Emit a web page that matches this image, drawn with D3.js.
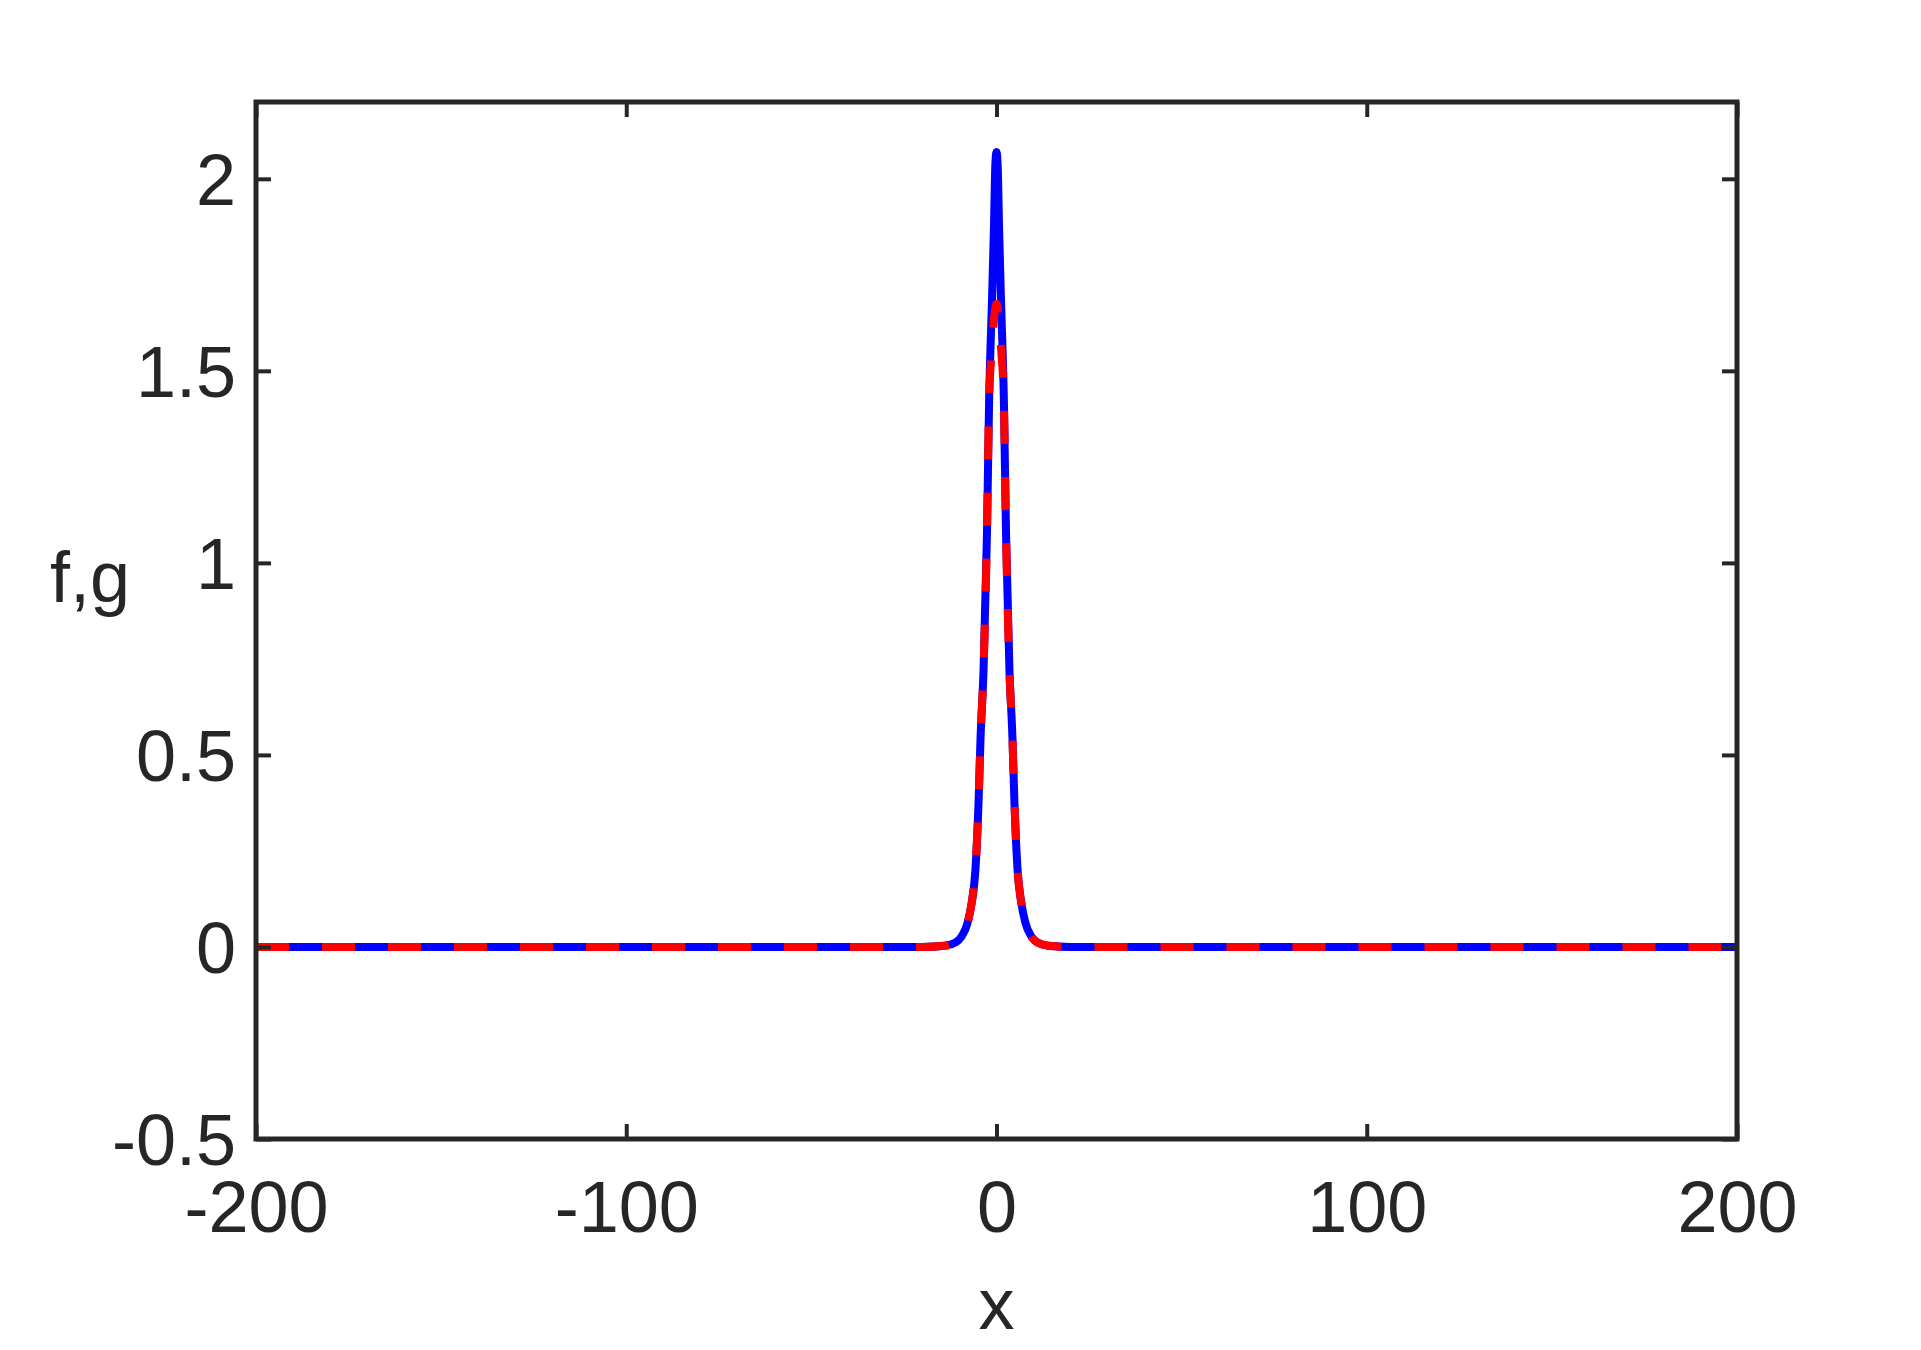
<!DOCTYPE html>
<html>
<head>
<meta charset="utf-8">
<script src="https://cdn.jsdelivr.net/npm/d3@7"></script>
<style>
  body { margin: 0; background: #fff; }
  text { font-family: "Liberation Sans", Arial, Helvetica, sans-serif; fill: #262626; }
</style>
</head>
<body>
<div id="chart"></div>
<script>
// values (x, f) for the solid blue curve
var fX = [-200, -20, -14, -11, -9.5, -7.8, -6.7, -5.7, -4.85, -4.3, -3.5, -2.57, -2.0, -1.2, -0.7, -0.3, 0,
          0.3, 0.7, 1.2, 2.0, 2.57, 3.5, 4.3, 4.85, 5.7, 6.7, 7.8, 9.5, 11, 14, 20, 200];
var fY = [0, 0, 0.003, 0.012, 0.026, 0.063, 0.115, 0.2, 0.375, 0.547, 0.72, 1.078, 1.42, 1.69, 1.87, 2.04, 2.07,
          2.04, 1.87, 1.69, 1.42, 1.078, 0.72, 0.547, 0.375, 0.2, 0.115, 0.063, 0.026, 0.012, 0.003, 0, 0];

// dashed red curve (g), peak is lower
var gX = [-200, -20, -14, -11, -9.5, -7.8, -6.7, -5.7, -4.85, -4.3, -3.5, -2.57, -2.0, -1.3, -0.5, 0,
          0.5, 1.3, 2.0, 2.57, 3.5, 4.3, 4.85, 5.7, 6.7, 7.8, 9.5, 11, 14, 20, 200];
var gY = [0, 0, 0.003, 0.012, 0.026, 0.063, 0.115, 0.2, 0.375, 0.547, 0.72, 1.078, 1.42, 1.55, 1.65, 1.675,
          1.65, 1.55, 1.42, 1.078, 0.72, 0.547, 0.375, 0.2, 0.115, 0.063, 0.026, 0.012, 0.003, 0, 0];

var xTicks = [-200, -100, 0, 100, 200];
var yTicks = [-0.5, 0, 0.5, 1, 1.5, 2];

var svgWidth = 1921;
var svgHeight = 1350;
var margin = { top: 102, right: 184, bottom: 211, left: 256 };
var width = svgWidth - margin.left - margin.right;
var height = svgHeight - margin.top - margin.bottom;

var svg = d3.select("#chart")
  .append("svg")
  .attr("width", svgWidth)
  .attr("height", svgHeight);

var chartGroup = svg.append("g")
  .attr("transform", `translate(${margin.left}, ${margin.top})`);

var x = d3.scaleLinear().domain([-200, 200]).range([0, width]);
var y = d3.scaleLinear().domain([-0.5, 2.2]).range([height, 0]);

var fmt = d => String(d);

// curves
var line = d3.line()
  .x(d => x(d[0]))
  .y(d => y(d[1]))
  .curve(d3.curveMonotoneX);

chartGroup.append("path")
  .datum(fX.map((v, i) => [v, fY[i]]))
  .attr("d", line)
  .attr("fill", "none")
  .attr("stroke", "#0000ff")
  .attr("stroke-width", 8)
  .attr("stroke-linejoin", "round");

chartGroup.append("path")
  .datum(gX.map((v, i) => [v, gY[i]]))
  .attr("d", line)
  .attr("fill", "none")
  .attr("stroke", "#ff0000")
  .attr("stroke-width", 8)
  .attr("stroke-linejoin", "round")
  .attr("stroke-dasharray", "33,33");

// axes (ticks point inward, box on all sides)
function styleAxis(g) {
  g.select(".domain").remove();
  g.selectAll(".tick line").attr("stroke", "#262626").attr("stroke-width", 4);
  g.selectAll(".tick text").attr("font-size", 72).attr("fill", "#262626");
}

chartGroup.append("g")
  .attr("transform", `translate(0, ${height})`)
  .call(d3.axisBottom(x).tickValues(xTicks).tickSize(-15).tickPadding(42).tickFormat(fmt))
  .call(styleAxis);

chartGroup.append("g")
  .call(d3.axisTop(x).tickValues(xTicks).tickSize(-15).tickFormat(""))
  .call(styleAxis);

var yAxis = chartGroup.append("g")
  .call(d3.axisLeft(y).tickValues(yTicks).tickSize(-15).tickPadding(20).tickFormat(fmt))
  .call(styleAxis);
yAxis.selectAll(".tick text").attr("dy", "0.36em");

chartGroup.append("g")
  .attr("transform", `translate(${width}, 0)`)
  .call(d3.axisRight(y).tickValues(yTicks).tickSize(-15).tickFormat(""))
  .call(styleAxis);

chartGroup.append("rect")
  .attr("width", width)
  .attr("height", height)
  .attr("fill", "none")
  .attr("stroke", "#262626")
  .attr("stroke-width", 5);

// labels
chartGroup.append("text")
  .attr("x", width / 2)
  .attr("y", height + 190)
  .attr("text-anchor", "middle")
  .attr("font-size", 72)
  .text("x");

svg.append("text")
  .attr("x", 90)
  .attr("y", 602)
  .attr("text-anchor", "middle")
  .attr("font-size", 72)
  .text("f,g");
</script>
</body>
</html>
